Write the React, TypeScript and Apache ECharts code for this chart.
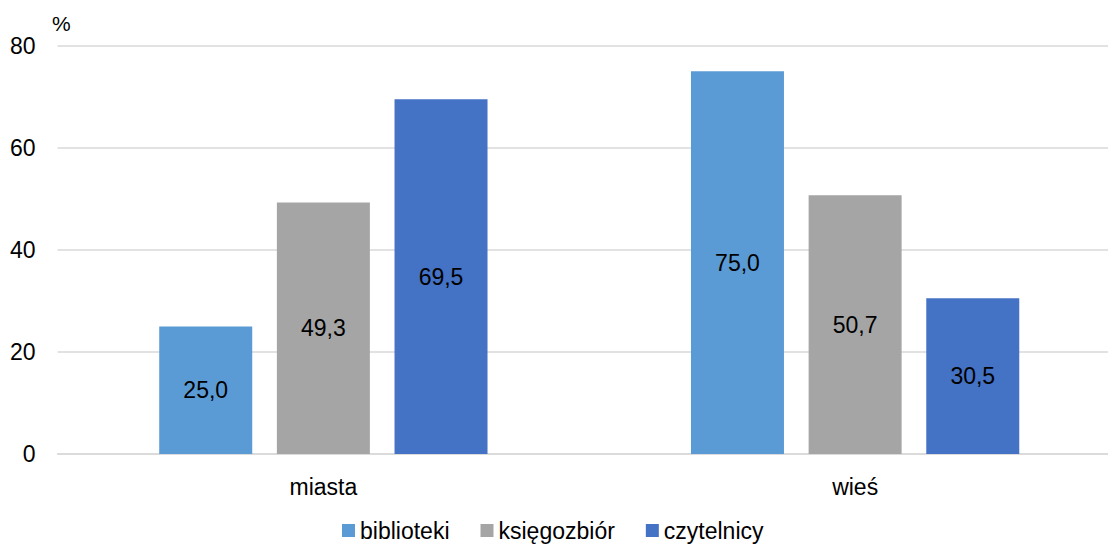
import React, { useEffect, useRef } from "react";
import * as echarts from "echarts";

const categories = ["miasta", "wieś"];
const seriesNames = ["biblioteki", "księgozbiór", "czytelnicy"];
const biblioteki = [25.0, 75.0];
const ksiegozbior = [49.3, 50.7];
const czytelnicy = [69.5, 30.5];
const colors = ["#5B9BD5", "#A5A5A5", "#4472C4"];
const yTicks = { min: 0, max: 80, interval: 20 };

const FONT = "'Liberation Sans', Arial, sans-serif";
const FS = 23;

export default function App() {
  const ref = useRef<HTMLDivElement>(null);
  useEffect(() => {
    if (!ref.current) return;
    const chart = echarts.init(ref.current, null, { renderer: "svg" });
    const values = [biblioteki, ksiegozbior, czytelnicy];
    chart.setOption({
      animation: false,
      textStyle: { fontFamily: FONT },
      grid: { left: 57.5, right: 0, top: 45.7, bottom: 91, containLabel: false },
      legend: {
        bottom: -2,
        left: 337,
        itemWidth: 13,
        itemHeight: 13,
        itemGap: 31,
        icon: "rect",
        textStyle: { fontSize: FS, color: "#000", fontFamily: FONT },
        data: seriesNames,
      },
      graphic: [
        {
          type: "text",
          left: 52,
          top: 13,
          style: { text: "%", fontSize: 21, fill: "#000", fontFamily: FONT },
        },
      ],
      xAxis: {
        type: "category",
        data: categories,
        axisLine: { lineStyle: { color: "#D9D9D9", width: 1.5 } },
        axisTick: { show: false },
        axisLabel: { fontSize: FS, color: "#000", margin: 21, fontFamily: FONT },
      },
      yAxis: {
        type: "value",
        min: yTicks.min,
        max: yTicks.max,
        interval: yTicks.interval,
        axisLine: { show: false },
        axisTick: { show: false },
        splitLine: { lineStyle: { color: "#D9D9D9", width: 1.5 } },
        axisLabel: { fontSize: FS, color: "#000", margin: 22, fontFamily: FONT },
      },
      series: seriesNames.map((name, i) => ({
        name,
        type: "bar",
        data: values[i],
        barWidth: 93,
        barGap: "26.5%",
        itemStyle: { color: colors[i] },
        label: {
          show: true,
          position: "inside",
          fontSize: FS,
          color: "#000",
          fontFamily: FONT,
          formatter: (p: any) => Number(p.value).toFixed(1).replace(".", ","),
        },
      })),
    });
    return () => chart.dispose();
  }, []);
  return (
    <div
      style={{ position: "absolute", left: 0, top: 0, width: 1108, height: 545, overflow: "hidden", background: "#fff" }}
    >
      <div ref={ref} style={{ width: 1121, height: 545 }} />
    </div>
  );
}
